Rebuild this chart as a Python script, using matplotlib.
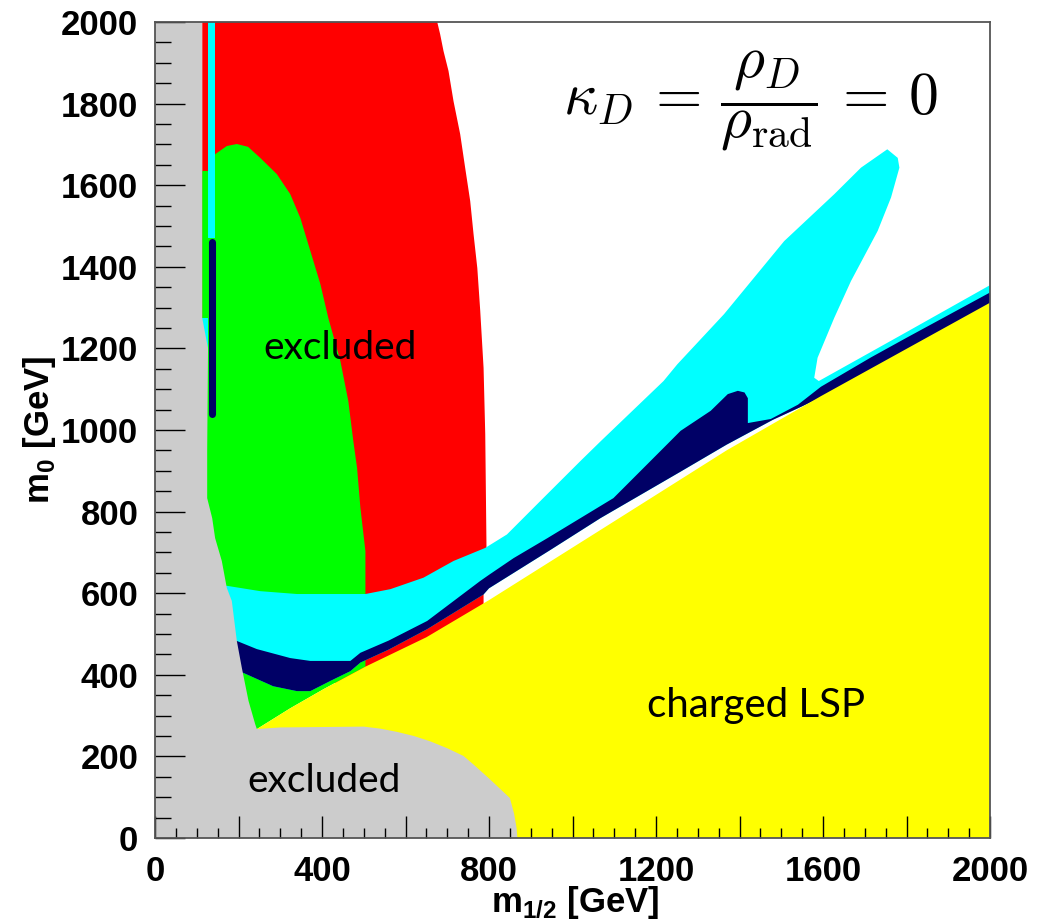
import numpy as np
import matplotlib
matplotlib.use('Agg')
import matplotlib.pyplot as plt
from matplotlib.ticker import MultipleLocator, FuncFormatter

matplotlib.rcParams['mathtext.fontset'] = 'custom'
matplotlib.rcParams['mathtext.rm'] = 'Liberation Sans'
matplotlib.rcParams['mathtext.bf'] = 'Liberation Sans:bold'

# region boundaries, (m_1/2, m_0) in GeV

# charged LSP boundary (top edge of the yellow region)
lsp_m12 = [244, 324, 404, 504, 650, 800, 1067, 1369, 1595, 2000]
lsp_m0 = [267, 318, 365, 420, 492, 583, 755, 950, 1083, 1312]

# grey excluded region (left strip + low m0 bump)
grey_m12 = [0, 868, 866, 860, 850, 825, 800, 763, 739, 700, 659, 620, 580, 540, 500,
            300, 244, 240, 224, 208, 196, 184, 172, 160, 144, 137, 125, 125, 127,
            113, 113, 0]
grey_m0 = [0, 0, 25, 60, 98, 122, 146, 180, 201, 220, 237, 250, 260, 268, 273,
           271, 267, 279, 336, 417, 483, 581, 613, 679, 735, 784, 833, 949, 1200,
           1275, 2000, 2000]

# red region
red_m12 = [113, 676, 683, 691, 703, 715, 731, 743, 755, 763, 772, 779, 787, 791,
           794, 794, 787, 787, 504, 113]
red_m0 = [2000, 2000, 1970, 1929, 1880, 1806, 1725, 1642, 1561, 1480, 1397, 1292,
          1152, 990, 711, 660, 640, 500, 380, 380]

# green region
green_m12 = [113, 127, 140, 144, 172, 196, 223, 252, 292, 324, 348, 372, 396, 415,
             444, 463, 475, 484, 492, 504, 504, 404, 324, 244, 113]
green_m0 = [1635, 1635, 1668, 1676, 1696, 1701, 1694, 1667, 1627, 1578, 1520, 1439,
            1358, 1275, 1169, 1071, 973, 907, 809, 703, 420, 365, 318, 267, 267]

# cyan region, upper edge (incl. the spike and the thin band)
cyan_top_m12 = [150, 173, 252, 340, 504, 564, 643, 715, 791, 843, 923, 1019, 1067,
                1218, 1251, 1363, 1507, 1627, 1691, 1754, 1779, 1783, 1763, 1731,
                1667, 1627, 1587, 1579, 1590, 1800, 2000]
cyan_top_m0 = [618, 618, 605, 598, 598, 610, 638, 679, 711, 744, 826, 924, 972,
               1120, 1161, 1284, 1463, 1578, 1643, 1688, 1667, 1643, 1570, 1488,
               1365, 1275, 1177, 1128, 1120, 1240, 1355]

# dark blue band: upper and lower edges
navy_top_m12 = [150, 196, 244, 324, 372, 468, 492, 560, 652, 779, 800, 859, 940,
                1019, 1098, 1180, 1259, 1331, 1372, 1396, 1412, 1420, 1420, 1475,
                1540, 1595, 1715, 1800, 2000]
navy_top_m0 = [483, 483, 463, 441, 434, 434, 454, 484, 532, 630, 645, 686, 735,
               784, 833, 917, 998, 1047, 1088, 1096, 1092, 1078, 1017, 1027,
               1062, 1106, 1178, 1226, 1337]
navy_bot_m12 = [211, 283, 340, 372, 420, 468, 492, 560, 652, 787, 800, 947, 1067,
                1259, 1369, 1480, 1550, 1595, 2000]
navy_bot_m0 = [405, 372, 360, 360, 385, 409, 430, 462, 512, 597, 612, 706, 784,
               898, 964, 1025, 1058, 1080, 1305]

# thin vertical strips near m_1/2 ~ 130
cyan_strip_m12 = [127, 144, 144, 127]
cyan_strip_m0 = [1471, 1471, 2000, 2000]
cyan_piece_m12 = [113, 127, 127, 113]
cyan_piece_m0 = [1200, 1200, 1275, 1275]
navy_strip_m12 = [135.5, 135.5]
navy_strip_m0 = [1038, 1462]

GREY = '#cccccc'
RED = '#ff0000'
GREEN = '#00ff00'
CYAN = '#00ffff'
NAVY = '#000066'
YELLOW = '#ffff00'

fig = plt.figure(figsize=(10.37, 9.24), dpi=100)
ax = fig.add_axes([155 / 1037, 1 - 838 / 924, 835 / 1037, 816 / 924])

ax.fill(red_m12, red_m0, color=RED, lw=0)
ax.fill(green_m12, green_m0, color=GREEN, lw=0)

cyan_x = cyan_top_m12 + navy_bot_m12[::-1] + [150]
cyan_y = cyan_top_m0 + navy_bot_m0[::-1] + [405]
ax.fill(cyan_x, cyan_y, color=CYAN, lw=0)
ax.fill(cyan_strip_m12, cyan_strip_m0, color=CYAN, lw=0)
ax.fill(cyan_piece_m12, cyan_piece_m0, color=CYAN, lw=0)

navy_x = navy_top_m12 + navy_bot_m12[::-1] + [150]
navy_y = navy_top_m0 + navy_bot_m0[::-1] + [405]
ax.fill(navy_x, navy_y, color=NAVY, lw=0)
ax.plot(navy_strip_m12, navy_strip_m0, color=NAVY, lw=5.1, solid_capstyle='round')

ax.fill(lsp_m12 + [2000, 244], lsp_m0 + [0, 0], color=YELLOW, lw=0)
ax.fill(grey_m12, grey_m0, color=GREY, lw=0)

ax.set_xlim(0, 2000)
ax.set_ylim(0, 2000)

# labels inside the plot
ax.text(444, 1201, 'excluded', fontsize=28, family='Lato', ha='center', va='center')
ax.text(405, 140, 'excluded', fontsize=28, family='Lato', ha='center', va='center')
ax.text(1439, 324, 'charged LSP', fontsize=29, family='Lato', ha='center', va='center')
ax.text(1425, 1806, r'$\kappa_D\, = \,\dfrac{\rho_D}{\rho_\mathrm{rad}}\, = \,0$',
        fontsize=43, math_fontfamily='cm', ha='center', va='center')

# axes, ticks
for s in ax.spines.values():
    s.set_color('#555555')
    s.set_linewidth(1.3)
ax.xaxis.set_major_locator(MultipleLocator(200))
ax.xaxis.set_minor_locator(MultipleLocator(50))
ax.yaxis.set_major_locator(MultipleLocator(200))
ax.yaxis.set_minor_locator(MultipleLocator(50))
ax.xaxis.set_major_formatter(FuncFormatter(lambda v, p: '%d' % v if int(v) % 400 == 0 else ''))
ax.yaxis.set_major_formatter(FuncFormatter(lambda v, p: '%d' % v))
ax.tick_params(axis='x', which='major', direction='in', length=15.8, width=1, pad=12, colors='black')
ax.tick_params(axis='x', which='minor', direction='in', length=7.2, width=1)
ax.tick_params(axis='y', which='major', direction='in', length=21.6, width=1, pad=12, colors='black')
ax.tick_params(axis='y', which='minor', direction='in', length=11.5, width=1)
for lab in ax.get_xticklabels() + ax.get_yticklabels():
    lab.set_fontfamily('Liberation Sans')
    lab.set_fontweight('bold')
    lab.set_fontsize(25)

fig.text(40 / 1037, 1 - 430 / 924, r'm$_\mathbf{0}$ [GeV]', rotation=90, ha='center',
         va='center', fontsize=25, fontweight='bold', family='Liberation Sans')
fig.text(659 / 1037, 0.003, r'm$_\mathbf{1/2}$ [GeV]', ha='right', va='bottom',
         fontsize=25, fontweight='bold', family='Liberation Sans')

fig.savefig('out.png', dpi=100)
